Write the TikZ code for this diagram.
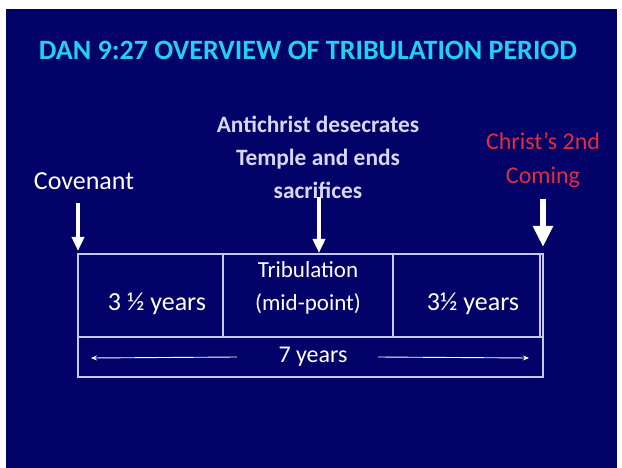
\documentclass[tikz,border=0pt]{standalone}
\usepackage{fontspec}
\setmainfont{Carlito}
\usetikzlibrary{arrows.meta}
\definecolor{slideblue}{RGB}{2,2,104}
\definecolor{titlecyan}{RGB}{35,208,240}
\definecolor{lavender}{RGB}{215,215,245}
\definecolor{boxline}{RGB}{200,200,240}
\definecolor{comingred}{RGB}{225,45,60}
\begin{document}
\begin{tikzpicture}[x=1pt, y=-1pt,
    boxtext/.style={white, font=\fontsize{26}{33}\selectfont, align=center},
    markarrow/.style={white, line width=3.5pt, -{Triangle[width=12pt,length=14pt]}},
    spanarrow/.style={white, line width=0.9pt, -{Stealth[width=5pt,length=6pt]}}]
    \useasboundingbox (0,0) rectangle (622,468);
    \fill [white] (0,0) rectangle (622,468);
    \fill [slideblue] (6,9) rectangle (617,468);
    \node [titlecyan, font=\bfseries\fontsize{28}{32}\selectfont] (title) at (308,50) {DAN 9:27 OVERVIEW OF TRIBULATION PERIOD};
    \node [white, font=\fontsize{26}{33}\selectfont] (covenant) at (84,181) {Covenant};
    \node [lavender, font=\bfseries\fontsize{23.4}{33}\selectfont, align=center] (antichrist) at (318,157) {Antichrist desecrates\\Temple and ends\\sacrifices};
    \node [comingred, font=\fontsize{24}{34}\selectfont, align=center] (coming) at (543,160) {Christ's 2nd\\Coming};
    % timeline box
    \draw [boxline, line width=1.2pt] (78,254) rectangle (543,377);
    \draw [boxline, line width=1.2pt] (78,337) -- (543,337);
    \draw [boxline, line width=1.2pt] (223,254) -- (223,337);
    \draw [boxline, line width=1.2pt] (393,254) -- (393,337);
    \draw [boxline, line width=1.2pt] (540,254) -- (540,337);
    \node [boxtext] (firsthalf) at (157,304) {3 ½ years};
    \node [boxtext, font=\fontsize{23}{33}\selectfont] (midpoint) at (308,288) {Tribulation\\(mid-point)};
    \node [boxtext] (secondhalf) at (473,304) {3½ years};
    \node [boxtext, font=\fontsize{24}{30}\selectfont] (seven) at (313,357) {7 years};
    % arrows
    \coordinate (covtop) at (78,203);
    \coordinate (covtip) at (78,251);
    \coordinate (midtop) at (319,197);
    \coordinate (midtip) at (319,253);
    \coordinate (cometop) at (543,199);
    \coordinate (cometip) at (543,247);
    \coordinate (spanleft) at (91,358);
    \coordinate (spanright) at (529,358);
    \draw [markarrow] (covtop) -- (covtip);
    \draw [markarrow] (midtop) -- (midtip);
    \draw [markarrow, line width=6pt, -{Triangle[width=19pt,length=21pt]}] (cometop) -- (cometip);
    \draw [spanarrow] ([xshift=-38pt]seven.west) -- (spanleft);
    \draw [spanarrow] ([xshift=27pt]seven.east) -- (spanright);
\end{tikzpicture}
\end{document}
